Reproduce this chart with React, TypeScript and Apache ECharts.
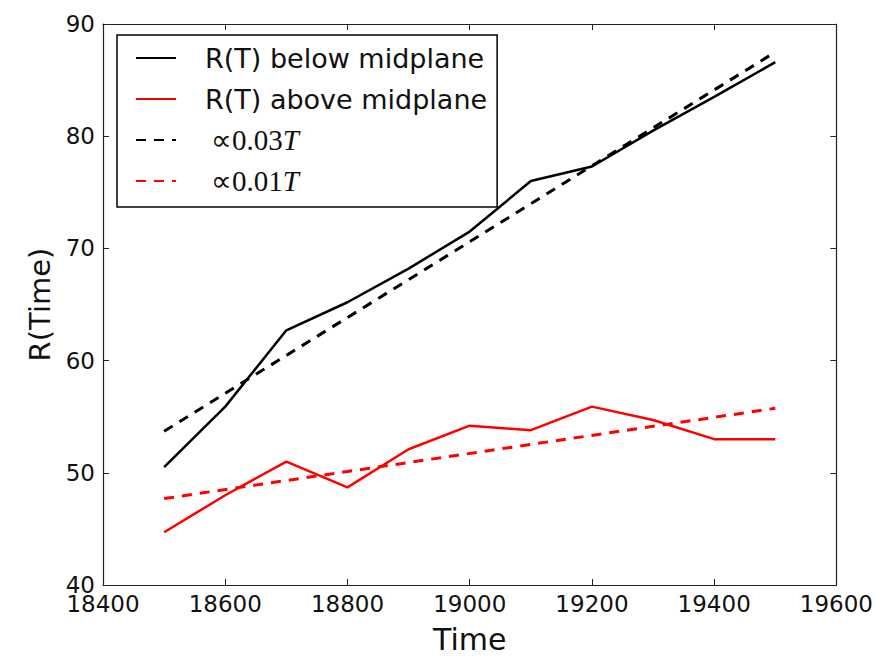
import React, { useEffect, useRef } from "react";
import * as echarts from "echarts";

const times = [18500, 18600, 18700, 18800, 18900, 19000, 19100, 19200, 19300, 19400, 19500];
const belowMidplane = [50.5, 55.9, 62.7, 65.2, 68.2, 71.5, 76.0, 77.3, 80.5, 83.5, 86.6];
const aboveMidplane = [44.7, 48.0, 51.0, 48.7, 52.1, 54.2, 53.8, 55.9, 54.7, 53.0, 53.0];
const fitTimes = [18500, 19500];
const fitBelow = [53.7, 87.5];
const fitAbove = [47.7, 55.75];
const seriesNames = ["R(T) below midplane", "R(T) above midplane", "∝0.03T", "∝0.01T"];
const xTicks = { min: 18400, max: 19600, interval: 200 };
const yTicks = { min: 40, max: 90, interval: 10 };

const pairs = (xs: number[], ys: number[]) => xs.map((x, i) => [x, ys[i]]);

export default function App() {
  const ref = useRef<HTMLDivElement>(null);
  useEffect(() => {
    if (!ref.current) return;
    const chart = echarts.init(ref.current, null, { renderer: "svg" });
    const sans = "DejaVu Sans";
    const serif = "Liberation Serif";
    const spine = { show: true, lineStyle: { color: "#222", width: 1.2 } };
    const tick = { show: true, inside: true, length: 6, lineStyle: { color: "#222", width: 1 } };
    chart.setOption({
      animation: false,
      backgroundColor: "#fff",
      grid: { left: 103, right: 39, top: 24, bottom: 70 },
      legend: {
        data: seriesNames,
        orient: "vertical",
        left: 117,
        top: 35,
        padding: [8, 10, 11, 18],
        itemWidth: 40,
        itemHeight: 14,
        itemGap: 11,
        backgroundColor: "#fff",
        borderColor: "#000",
        borderWidth: 1.5,
        borderRadius: 0,
        selectedMode: false,
        itemStyle: { opacity: 0 },
        textStyle: {
          fontFamily: sans,
          fontSize: 27,
          color: "#111",
          lineHeight: 30,
          padding: [0, 0, 0, 24],
          rich: {
            m: { fontFamily: serif, fontSize: 29, color: "#111", lineHeight: 30, padding: [0, 0, 0, 6] },
            t: { fontFamily: serif, fontStyle: "italic", fontSize: 29, color: "#111", lineHeight: 30 },
          },
        },
        formatter: (name: string) => {
          if (name.startsWith("∝")) {
            return "{m|" + name.slice(0, -1) + "}{t|T}";
          }
          return name;
        },
      },
      xAxis: [
        {
          type: "value",
          ...xTicks,
          name: "Time",
          nameLocation: "middle",
          nameGap: 39,
          nameTextStyle: { fontFamily: sans, fontSize: 30, color: "#111" },
          axisLine: spine,
          axisTick: tick,
          splitLine: { show: false },
          axisLabel: {
            fontFamily: sans,
            fontSize: 23,
            color: "#111",
            margin: 7,
            formatter: (v: number) => String(v),
          },
        },
        {
          type: "value",
          ...xTicks,
          position: "top",
          axisLine: spine,
          axisTick: tick,
          splitLine: { show: false },
          axisLabel: { show: false },
        },
      ],
      yAxis: [
        {
          type: "value",
          ...yTicks,
          name: "R(Time)",
          nameLocation: "middle",
          nameGap: 48,
          nameTextStyle: { fontFamily: sans, fontSize: 29, color: "#111" },
          axisLine: spine,
          axisTick: tick,
          splitLine: { show: false },
          axisLabel: { fontFamily: sans, fontSize: 23, color: "#111", margin: 8 },
        },
        {
          type: "value",
          ...yTicks,
          position: "right",
          axisLine: spine,
          axisTick: tick,
          splitLine: { show: false },
          axisLabel: { show: false },
        },
      ],
      series: [
        {
          name: seriesNames[0],
          type: "line",
          data: pairs(times, belowMidplane),
          symbol: "none",
          lineStyle: { color: "#000", width: 2.5 },
          itemStyle: { color: "#000" },
        },
        {
          name: seriesNames[1],
          type: "line",
          data: pairs(times, aboveMidplane),
          symbol: "none",
          lineStyle: { color: "#ff0000", width: 2.5 },
          itemStyle: { color: "#ff0000" },
        },
        {
          name: seriesNames[2],
          type: "line",
          data: pairs(fitTimes, fitBelow),
          symbol: "none",
          lineStyle: { color: "#000", width: 3, type: [10, 8] },
          itemStyle: { color: "#000" },
        },
        {
          name: seriesNames[3],
          type: "line",
          data: pairs(fitTimes, fitAbove),
          symbol: "none",
          lineStyle: { color: "#ff0000", width: 3, type: [10, 8] },
          itemStyle: { color: "#ff0000" },
        },
      ],
    });
    return () => chart.dispose();
  }, []);
  return (
    <div
      ref={ref}
      style={{ position: "fixed", left: 0, top: 0, width: 876, height: 659, background: "#fff" }}
    />
  );
}
